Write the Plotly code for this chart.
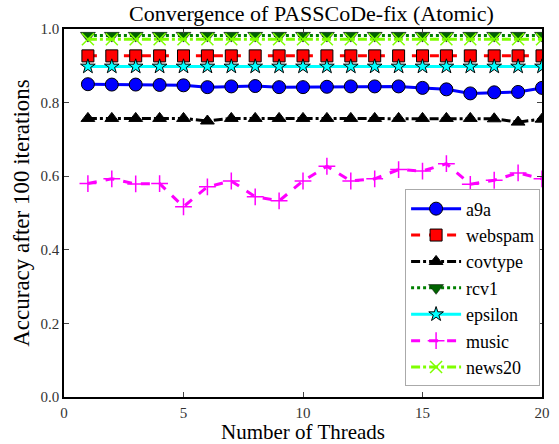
import plotly.graph_objects as go

threads = list(range(1, 21))

a9a = [0.850, 0.849, 0.849, 0.848, 0.847, 0.842, 0.844, 0.845, 0.842, 0.842,
       0.843, 0.844, 0.844, 0.844, 0.840, 0.836, 0.825, 0.828, 0.829, 0.840]
webspam = [0.927] * 20
covtype = [0.757, 0.757, 0.757, 0.757, 0.757, 0.750, 0.757, 0.757, 0.757, 0.757,
           0.757, 0.757, 0.757, 0.757, 0.757, 0.757, 0.757, 0.756, 0.747, 0.755]
rcv1 = [0.982] * 20
epsilon = [0.898] * 20
music = [0.580, 0.593, 0.579, 0.580, 0.517, 0.571, 0.587, 0.544, 0.533, 0.587,
         0.627, 0.587, 0.593, 0.618, 0.614, 0.634, 0.578, 0.589, 0.609, 0.593]
news20 = [0.972] * 20

series = [
    ("a9a", a9a, dict(color="blue", width=3, dash="solid"),
     dict(symbol="circle", size=13, color="blue", line=dict(color="black", width=1))),
    ("webspam", webspam, dict(color="red", width=3, dash="dash"),
     dict(symbol="square", size=12, color="red", line=dict(color="black", width=1))),
    ("covtype", covtype, dict(color="black", width=3, dash="dashdot"),
     dict(symbol="triangle-up", size=12, color="black", line=dict(color="black", width=1))),
    ("rcv1", rcv1, dict(color="green", width=3, dash="dot"),
     dict(symbol="triangle-down", size=13, color="#006400", line=dict(color="black", width=0.5))),
    ("epsilon", epsilon, dict(color="cyan", width=3, dash="solid"),
     dict(symbol="star", size=11, color="cyan", line=dict(color="black", width=1))),
    ("music", music, dict(color="magenta", width=3, dash="dash"),
     dict(symbol="cross-thin", size=12, color="magenta", line=dict(color="magenta", width=1.5))),
    ("news20", news20, dict(color="#7fff00", width=3, dash="dashdot"),
     dict(symbol="x-thin", size=12, color="#7fff00", line=dict(color="#7fff00", width=1.5))),
]

fig = go.Figure()
for name, vals, line, marker in series:
    fig.add_trace(go.Scatter(x=threads, y=vals, name=name, mode="lines+markers",
                             line=line, marker=marker))

serif = "Liberation Serif"

fig.update_layout(
    template="none",
    width=559, height=444,
    margin=dict(l=64, r=17, t=29, b=47),
    paper_bgcolor="white", plot_bgcolor="white",
    font=dict(family=serif, color="black"),
    title=dict(text="Convergence of PASSCoDe-fix (Atomic)", x=0.557, xanchor="center",
               y=0.970, yanchor="middle", font=dict(size=22, family=serif)),
    legend=dict(x=0.996, y=0.564, xanchor="right", yanchor="top",
                bordercolor="#aaaaaa", borderwidth=1, bgcolor="white",
                font=dict(size=18, family=serif), tracegroupgap=0,
                itemwidth=50),
    showlegend=True,
)

fig.update_xaxes(
    range=[0, 20], tickvals=[0, 5, 10, 15, 20], ticks="inside", ticklen=5,
    mirror="allticks", showline=True, linecolor="black", linewidth=1.5,
    showgrid=False, zeroline=False, ticklabelstandoff=1,
    tickfont=dict(size=15, color="#333333", family=serif),
    title=dict(text="Number of Threads", font=dict(size=21, family=serif), standoff=10),
)
fig.update_yaxes(
    range=[0, 1.0], tickvals=[0, 0.2, 0.4, 0.6, 0.8, 1.0], tickformat=".1f",
    ticks="inside", ticklen=5,
    mirror="allticks", showline=True, linecolor="black", linewidth=1.5,
    showgrid=False, zeroline=False,
    tickfont=dict(size=15, color="#333333", family=serif),
    title=dict(text="Accuracy after 100 iterations", font=dict(size=23, family=serif), standoff=4),
)

fig.write_html("out.html")
